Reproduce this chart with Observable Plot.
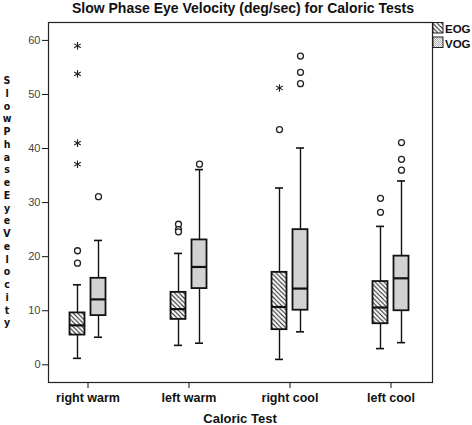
<!DOCTYPE html>
<html><head><meta charset="utf-8">
<script src="https://cdn.jsdelivr.net/npm/d3@7"></script>
<script src="https://cdn.jsdelivr.net/npm/@observablehq/plot@0.6"></script>
<style>
body{margin:0;background:#fff;}
#wrap{width:472px;height:425px;}
</style></head><body><div id="wrap"></div><script>
// ---- data ----
const categories = ["right warm", "left warm", "right cool", "left cool"];
const groups = ["EOG", "VOG"];
const yTicks = [0, 10, 20, 30, 40, 50, 60];

// EOG summary (whisker low, Q1, median, Q3, whisker high)
const eogLow = [1.2, 3.6, 1.0, 3.0];
const eogQ1 = [5.5, 8.4, 6.5, 7.6];
const eogMed = [7.3, 10.3, 10.7, 10.6];
const eogQ3 = [9.6, 13.4, 17.1, 15.4];
const eogHigh = [14.8, 20.6, 32.7, 25.6];
const eogOutliers = [[21.1, 18.8], [26.0, 25.0, 24.6], [43.5], [30.8, 28.2]];
const eogExtremes = [[59.0, 53.8, 41.0, 37.1], [], [51.2], []];

// VOG summary
const vogLow = [5.1, 4.0, 6.1, 4.1];
const vogQ1 = [9.1, 14.1, 10.1, 10.0];
const vogMed = [12.1, 18.1, 14.1, 16.0];
const vogQ3 = [16.0, 23.1, 25.0, 20.1];
const vogHigh = [23.0, 36.1, 40.1, 34.0];
const vogOutliers = [[31.1], [37.1], [57.1, 54.1, 52.0], [41.1, 38.0, 36.0]];
const vogExtremes = [[], [], [], []];

const titleText = "Slow Phase Eye Velocity (deg/sec) for Caloric Tests";
const xLabel = "Caloric Test";
const yLabel = "Slow Phase Eye Velocity";

// ---- build tables ----
function boxTable(lo, q1, med, q3, hi) {
  return categories.map((c, i) => ({category: c, lo: lo[i], q1: q1[i], med: med[i], q3: q3[i], hi: hi[i]}));
}
function pointTable(lists) {
  return categories.flatMap((c, i) => lists[i].map(v => ({category: c, value: v})));
}
const series = {
  EOG: {boxes: boxTable(eogLow, eogQ1, eogMed, eogQ3, eogHigh), out: pointTable(eogOutliers), ext: pointTable(eogExtremes), fill: "url(#hatchEOG)", dx: -10.5},
  VOG: {boxes: boxTable(vogLow, vogQ1, vogMed, vogQ3, vogHigh), out: pointTable(vogOutliers), ext: pointTable(vogExtremes), fill: "url(#stippleVOG)", dx: 10.5}
};

const boxInset = 43;
const capInset = 46.5;

const marks = [Plot.frame({stroke: "#222", strokeWidth: 1.2})];
for (const g of groups) {
  const s = series[g];
  marks.push(
    Plot.ruleX(s.boxes, {x: "category", y1: "lo", y2: "hi", dx: s.dx, stroke: "#111", strokeWidth: 1.4}),
    Plot.tickY(s.boxes, {x: "category", y: "lo", dx: s.dx, insetLeft: capInset, insetRight: capInset, stroke: "#111", strokeWidth: 1.6}),
    Plot.tickY(s.boxes, {x: "category", y: "hi", dx: s.dx, insetLeft: capInset, insetRight: capInset, stroke: "#111", strokeWidth: 1.6}),
    Plot.barY(s.boxes, {x: "category", y1: "q1", y2: "q3", dx: s.dx, insetLeft: boxInset, insetRight: boxInset, fill: s.fill, stroke: "#111", strokeWidth: 1.8}),
    Plot.tickY(s.boxes, {x: "category", y: "med", dx: s.dx, insetLeft: boxInset, insetRight: boxInset, stroke: "#111", strokeWidth: 2.2}),
    Plot.dot(s.out, {x: "category", y: "value", dx: s.dx, r: 3, stroke: "#222", fill: "white", strokeWidth: 1.3}),
    Plot.dot(s.ext, {x: "category", y: "value", dx: s.dx, r: 3.6, symbol: "asterisk", stroke: "#222", strokeWidth: 1.1})
  );
}

const chart = Plot.plot({
  width: 472,
  height: 425,
  marginLeft: 48,
  marginRight: 40,
  marginTop: 22,
  marginBottom: 43,
  style: {fontFamily: "'Liberation Sans', Arial, sans-serif", fontSize: "11px", background: "white", color: "#111"},
  x: {type: "band", domain: categories, range: [37.15, 441.6], padding: 0, tickSize: 6, tickPadding: 5, label: null},
  y: {domain: [-3.27, 63.31], ticks: yTicks, tickSize: 6, tickPadding: 2, label: null},
  marks
});

const svg = d3.select(chart);
// patterns
const defs = svg.insert("defs", ":first-child");
const h = defs.append("pattern").attr("id", "hatchEOG").attr("patternUnits", "userSpaceOnUse").attr("width", 4.5).attr("height", 4.5);
h.append("rect").attr("width", 4.5).attr("height", 4.5).attr("fill", "white");
h.append("path").attr("d", "M-1,-1L5.5,5.5M-1,3.5L1,5.5M3.5,-1L5.5,1").attr("stroke", "#222").attr("stroke-width", 1.1);
const st = defs.append("pattern").attr("id", "stippleVOG").attr("patternUnits", "userSpaceOnUse").attr("width", 2).attr("height", 2);
st.append("rect").attr("width", 2).attr("height", 2).attr("fill", "#f2f2f2");
st.append("rect").attr("width", 1).attr("height", 1).attr("fill", "#b2b2b2");
st.append("rect").attr("x", 1).attr("y", 1).attr("width", 1).attr("height", 1).attr("fill", "#b2b2b2");

// x tick labels bold
svg.selectAll('g[aria-label^="x-axis"] text').style("font-weight", "bold").style("font-size", "12.5px").attr("fill", "#111");
svg.selectAll('g[aria-label^="y-axis"] text').attr("fill", "#444");

const font = "'Liberation Sans', Arial, sans-serif";
// title
svg.append("text").attr("x", 243).attr("y", 12.5).attr("text-anchor", "middle")
  .style("font-family", font).style("font-size", "14px").style("font-weight", "bold").attr("fill", "#111").text(titleText);
// x label
svg.append("text").attr("x", 240).attr("y", 423).attr("text-anchor", "middle")
  .style("font-family", font).style("font-size", "13px").style("font-weight", "bold").attr("fill", "#111").text(xLabel);
// y label: stacked upright letters
const yl = svg.append("text").attr("text-anchor", "middle")
  .style("font-family", "'Liberation Sans Narrow', 'DejaVu Sans Condensed', 'Liberation Sans', sans-serif")
  .style("font-size", "10.5px").style("font-weight", "bold").attr("fill", "#111");
yl.append("title").text(yLabel);
const letters = yLabel.replace(/\s+/g, "").split("");
letters.forEach((ch, i) => {
  yl.append("tspan").attr("x", 7).attr("y", 84 + i * 12.75).text(ch);
});
// legend
const leg = svg.append("g");
groups.forEach((g, i) => {
  const y0 = 22.5 + i * 14.5;
  leg.append("rect").attr("x", 433).attr("y", y0).attr("width", 10).attr("height", 10.5)
    .attr("fill", series[g].fill).attr("stroke", "#222").attr("stroke-width", 1);
  leg.append("text").attr("x", 445).attr("y", y0 + 10.5).attr("text-anchor", "start")
    .style("font-family", font).style("font-size", "11.5px").style("font-weight", "bold").attr("fill", "#111").text(g);
});

document.getElementById("wrap").appendChild(chart);
</script></body></html>
